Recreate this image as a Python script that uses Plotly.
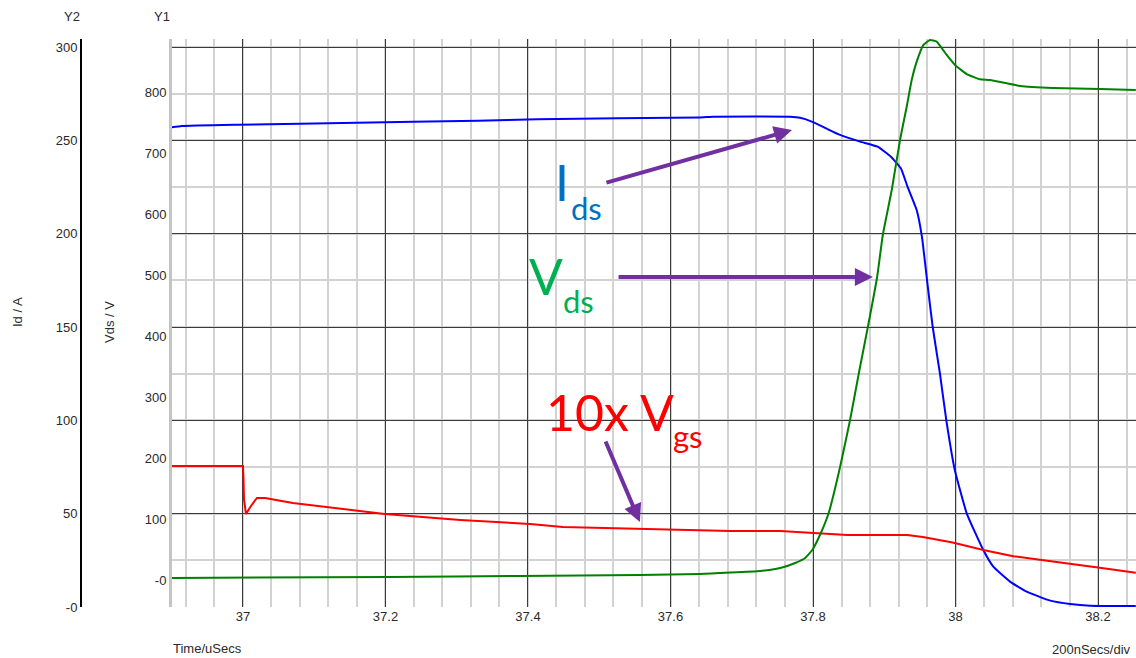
import plotly.graph_objects as go

# ---------------- data ----------------
# Drain current Ids [A] (left-most axis "Y2")
t_ids = [36.900, 36.914, 36.993, 37.080, 37.160, 37.239, 37.330, 37.413, 37.641, 37.660,
         37.768, 37.782, 37.800, 37.820, 37.838, 37.866, 37.8906, 37.9093, 37.9233, 37.9326,
         37.9455, 37.953, 37.960, 37.968, 37.978, 37.987, 37.999, 38.0157, 38.039, 38.053,
         38.0765, 38.100, 38.133, 38.161, 38.189, 38.253]
ids = [257.0, 257.7, 258.4, 258.9, 259.4, 260.0, 260.5, 261.3, 262.3, 262.7,
       262.7, 262.1, 259.8, 256.1, 252.9, 249.3, 246.6, 241.2, 235.0, 225.2,
       212.7, 198.0, 175.2, 150.0, 125.4, 100.2, 73.4, 50.2, 30.5, 21.6,
       13.6, 8.2, 3.4, 1.6, 0.7, 0.5]

# Drain-source voltage Vds [V] (axis "Y1")
t_vds = [36.900, 37.206, 37.389, 37.557, 37.641, 37.726, 37.754, 37.775, 37.789,
         37.799, 37.811, 37.822, 37.838, 37.852, 37.866, 37.877, 37.890, 37.898, 37.9105,
         37.9221, 37.9315, 37.9385, 37.9455, 37.9548, 37.9642, 37.9736, 37.9876, 37.9993,
         38.0157, 38.0344, 38.0484, 38.091, 38.137, 38.203, 38.253]
vds = [3.3, 4.9, 6.6, 8.2, 9.8, 14.8, 19.7, 27.9, 36.1,
       49.2, 77.0, 109.8, 185.2, 262.3, 349.2, 414.8, 496.7, 566.0, 639.3,
       721.3, 775.9, 819.7, 849.7, 877.0, 885.2, 882.5, 860.7, 844.3,
       829.5, 820.8, 819.7, 809.8, 806.6, 805.0, 803.3]

# 10 x gate-source voltage [V] (axis "Y1")
t_vgs = [36.900, 37.000, 37.0007, 37.0014, 37.0042, 37.0112, 37.0196, 37.031, 37.070, 37.132,
         37.199, 37.305, 37.403, 37.449, 37.561, 37.684, 37.754, 37.799, 37.848, 37.932,
         37.954, 37.996, 38.016, 38.039, 38.081, 38.118, 38.147, 38.200, 38.253]
vgs10 = [186.9, 186.9, 168.9, 132.8, 108.2, 121.3, 134.4, 134.4, 126.2, 118.0,
         108.2, 98.4, 91.8, 86.9, 83.6, 80.3, 80.3, 77.0, 73.8, 73.8,
         70.5, 61.5, 55.7, 49.2, 39.0, 32.8, 28.5, 20.5, 11.8]

id_ticks = [0, 50, 100, 150, 200, 250, 300]
id_ticktext = ["-0", "50", "100", "150", "200", "250", "300"]
v_ticks = [0, 100, 200, 300, 400, 500, 600, 700, 800]
v_ticktext = ["-0", "100", "200", "300", "400", "500", "600", "700", "800"]
t_ticks = [37.0, 37.2, 37.4, 37.6, 37.8, 38.0, 38.2]
t_ticktext = ["37", "37.2", "37.4", "37.6", "37.8", "38", "38.2"]

# ---------------- figure ----------------
W, H = 1136, 658
ML, MR, MT, MB = 0, 0, 39, 51
PW, PH = W - ML - MR, H - MT - MB


def px(xp):
    return (xp - ML) / PW


def py(yp):
    return (H - MB - yp) / PH


DARK = "#3a3a3a"
LIGHT = "#d2d2d2"
FONT = "Liberation Sans, Arial, sans-serif"
TXT = "#2a2a2a"

fig = go.Figure()
fig.add_trace(go.Scatter(x=t_vgs, y=vgs10, yaxis="y2", mode="lines",
                         line=dict(color="#FF0000", width=2), name="10x Vgs"))
fig.add_trace(go.Scatter(x=t_ids, y=ids, yaxis="y", mode="lines",
                         line=dict(color="#0000FF", width=2, shape="spline", smoothing=0.4),
                         name="Ids"))
fig.add_trace(go.Scatter(x=t_vds, y=vds, yaxis="y2", mode="lines",
                         line=dict(color="#008000", width=2, shape="spline", smoothing=0.4),
                         name="Vds"))

fig.update_layout(
    width=W, height=H, autosize=False,
    margin=dict(l=ML, r=MR, t=MT, b=MB, pad=0),
    paper_bgcolor="white", plot_bgcolor="white",
    showlegend=False,
    font=dict(family=FONT, size=13, color=TXT),
    xaxis=dict(
        domain=[px(172), 1], range=[36.9004, 38.2533],
        tickmode="array", tickvals=t_ticks, ticktext=t_ticktext,
        showgrid=True, gridcolor=DARK, gridwidth=1,
        minor=dict(tickmode="linear", tick0=37, dtick=0.04, showgrid=True,
                   gridcolor=LIGHT, gridwidth=2),
        zeroline=False, showline=False, ticks="",
        tickfont=dict(family=FONT, size=13, color=TXT),
    ),
    yaxis=dict(
        anchor="free", position=px(81), range=[0, 304.3],
        tickmode="array", tickvals=id_ticks, ticktext=id_ticktext,
        showgrid=True, gridcolor=DARK, gridwidth=1,
        minor=dict(tickmode="linear", tick0=0, dtick=25, showgrid=True,
                   gridcolor=LIGHT, gridwidth=2),
        showline=True, linecolor="black", linewidth=2,
        ticks="", zeroline=False,
        tickfont=dict(family=FONT, size=13, color=TXT),
    ),
    yaxis2=dict(
        overlaying="y", anchor="x", side="left", range=[-44.3, 886.9],
        tickmode="array", tickvals=v_ticks, ticktext=v_ticktext,
        showgrid=False, zeroline=False,
        showline=True, linecolor="#c4c4c4", linewidth=3, ticks="",
        tickfont=dict(family=FONT, size=13, color=TXT),
    ),
)

ann = []


def label(text, x, y, size=13, color=TXT, family=FONT, xanchor="center", angle=0):
    ann.append(dict(text=text, x=px(x), y=py(y), xref="paper", yref="paper",
                    xanchor=xanchor, yanchor="middle", textangle=angle,
                    showarrow=False, font=dict(family=family, size=size, color=color)))


# axis captions
label("Y2", 72, 17)
label("Y1", 162, 17)
label("Id / A", 17, 312, angle=-90)
label("Vds / V", 110, 322, angle=-90)
label("Time/uSecs", 171, 648, xanchor="left")
label("200nSecs/div", 1133, 649, xanchor="right")

# callout texts
BIG = "Lato, Open Sans, sans-serif"
label("I", 562, 182, size=50, color="#0070C0", family=BIG)
label("ds", 586, 208, size=31, color="#0070C0", family=BIG)
label("V", 546, 276, size=50, color="#00B050", family=BIG)
label("ds", 578, 301, size=31, color="#00B050", family=BIG)
label("10x V", 610, 412, size=50, color="#FF0000", family=BIG)
label("gs", 688, 436, size=31, color="#FF0000", family=BIG)

# arrows
ARW = "#7030A0"
for (x1, y1, x0, y0) in [(37.7705, 737.7, 37.508, 650.8),
                         (37.884, 496.7, 37.525, 496.7),
                         (37.557, 95.1, 37.508, 229.5)]:
    ann.append(dict(x=x1, y=y1, ax=x0, ay=y0, xref="x", yref="y2",
                    axref="x", ayref="y2", text="", showarrow=True,
                    arrowhead=2, arrowsize=0.9, arrowwidth=4, arrowcolor=ARW,
                    standoff=0))

fig.update_layout(annotations=ann)
fig.write_html("out.html")
